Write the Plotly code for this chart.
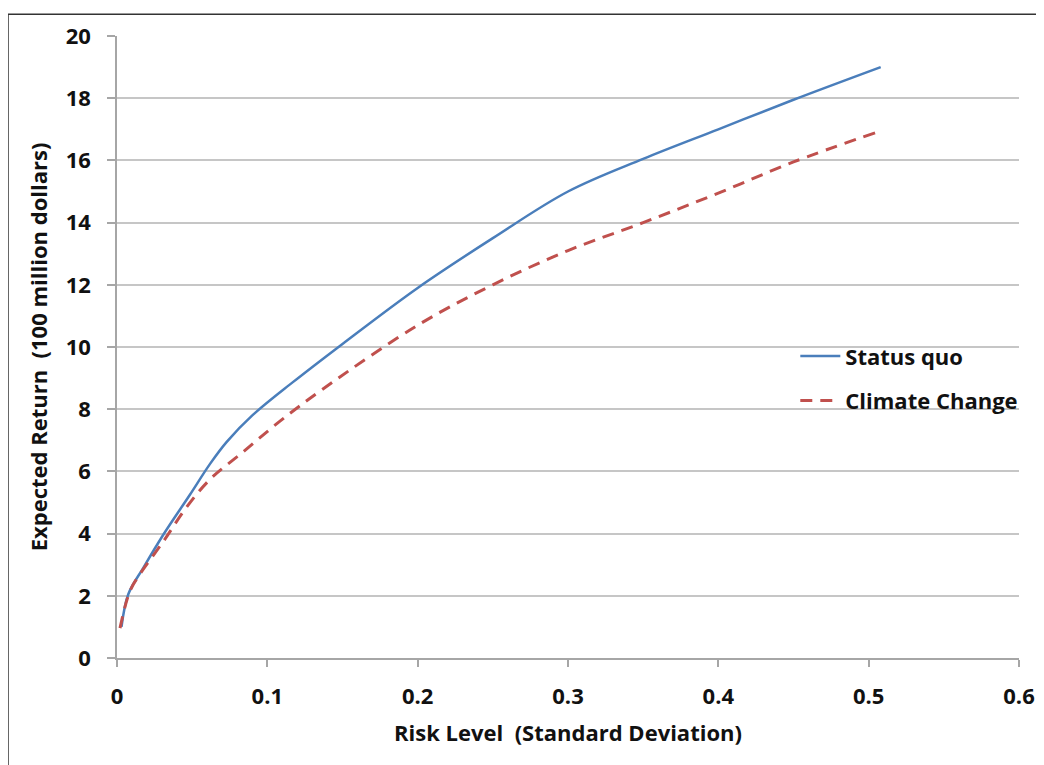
import plotly.graph_objects as go

# Status quo frontier
sq_x = [0.003, 0.0075, 0.0175, 0.031, 0.0485, 0.062, 0.073, 0.09, 0.117, 0.15, 0.2, 0.25, 0.3, 0.35, 0.4, 0.45, 0.508]
sq_y = [1.0, 2.05, 2.9, 3.98, 5.25, 6.25, 6.95, 7.8, 8.87, 10.1, 11.9, 13.5, 15.0, 16.05, 17.0, 17.95, 19.0]

# Climate change frontier
cc_x = [0.002, 0.0086, 0.0153, 0.031, 0.046, 0.062, 0.084, 0.108, 0.137, 0.2, 0.25, 0.3, 0.35, 0.4, 0.45, 0.505]
cc_y = [0.96, 2.15, 2.7, 3.76, 4.83, 5.75, 6.63, 7.6, 8.65, 10.7, 12.0, 13.1, 14.0, 14.95, 15.95, 16.9]

x_ticks = [0, 0.1, 0.2, 0.3, 0.4, 0.5, 0.6]
x_tick_text = ["0", "0.1", "0.2", "0.3", "0.4", "0.5", "0.6"]
y_ticks = [0, 2, 4, 6, 8, 10, 12, 14, 16, 18, 20]

FONT = "'Open Sans', sans-serif"

fig = go.Figure()
fig.add_trace(go.Scatter(x=sq_x, y=sq_y, mode="lines", name="Status quo", legendgroup="a",
                         line=dict(color="#4a7ebb", width=2.5, shape="spline", smoothing=1.0)))
fig.add_trace(go.Scatter(x=cc_x, y=cc_y, mode="lines", name="Climate Change", legendgroup="b",
                         line=dict(color="#c0504d", width=3, dash="12px,8px", shape="spline", smoothing=1.0)))

L, T, W, H = 109, 23, 1044, 765
R, B = 33, 115
pw = W - L - R
ph = H - T - B

fig.update_layout(
    width=W, height=H,
    margin=dict(l=L, r=R, t=T, b=B),
    paper_bgcolor="white", plot_bgcolor="white",
    font=dict(family=FONT, color="#111111", size=18),
    showlegend=True,
    legend=dict(x=0.752, y=0.449, xanchor="left", yanchor="middle",
                bgcolor="rgba(0,0,0,0)", font=dict(size=22, family=FONT, weight="bold"),
                itemwidth=40, tracegroupgap=13),
    xaxis=dict(range=[0, 0.6], tickvals=x_ticks, ticktext=x_tick_text,
               showgrid=False, zeroline=False, showline=True, linecolor="#a6a6a6", linewidth=1.5,
               ticks="outside", ticklen=7, tickcolor="#a6a6a6", tickwidth=1.5,
               ticklabelstandoff=11,
               tickfont=dict(size=22, family=FONT, weight="bold"),
               title=dict(text="Risk Level  (Standard Deviation)", font=dict(size=22, family=FONT, weight="bold"),
                          standoff=16)),
    yaxis=dict(range=[0, 20], tickvals=y_ticks,
               showgrid=True, gridcolor="#c6c6c6", gridwidth=1.5,
               zeroline=False, showline=True, linecolor="#a6a6a6", linewidth=1.5,
               ticks="outside", ticklen=8, tickcolor="#a6a6a6", tickwidth=1.5,
               ticklabelstandoff=12,
               tickfont=dict(size=22, family=FONT, weight="bold"),
               title=dict(text="Expected Return  (100 million dollars)", font=dict(size=22, family=FONT, weight="bold"),
                          standoff=12)),
)

# Outer frame (only left and top edges visible in the reference)
fx = (0 - L) / pw
fy = 1 + (T - 1) / ph
fig.add_shape(type="line", xref="paper", yref="paper",
              x0=fx, x1=1.2, y0=fy, y1=fy, line=dict(color="#333333", width=1.5))
fig.add_shape(type="line", xref="paper", yref="paper",
              x0=fx, x1=fx, y0=-0.3, y1=fy, line=dict(color="#333333", width=1.5))

fig.write_html("out.html")
